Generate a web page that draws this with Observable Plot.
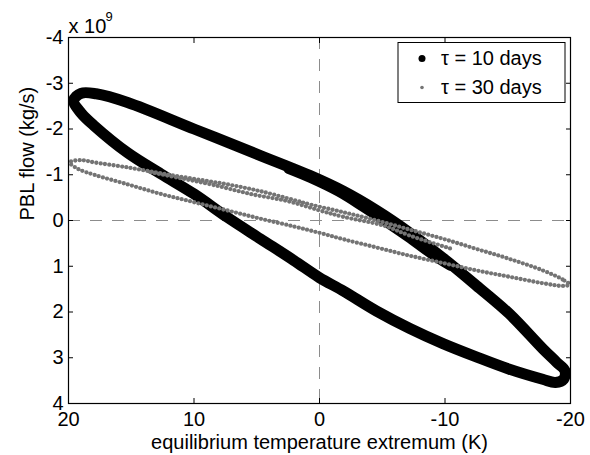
<!DOCTYPE html>
<html><head><meta charset="utf-8">
<script src="https://cdn.jsdelivr.net/npm/d3@7"></script>
<script src="https://cdn.jsdelivr.net/npm/@observablehq/plot@0.6"></script>
<style>body{margin:0;background:#fff} svg{display:block}</style>
</head><body><div id="chart"></div>
<script>
// ---- chart data ----
const xTicks = [20, 10, 0, -10, -20];
const yTicks = [-4, -3, -2, -1, 0, 1, 2, 3, 4];
const xLabel = "equilibrium temperature extremum (K)";
const yLabel = "PBL flow (kg/s)";
const yMultiplier = "x 10";
const yExponent = "9";
const seriesLabels = ["τ = 10 days", "τ = 30 days"];
const seriesColors = ["#000000", "#747474"];

// τ = 10 days : settled loop (temperature K, flow 1e9 kg/s)
const blackLoopT = [-19.55, -18.9, -17.78, -15.13, -12.49, -9.84, -7.2, -4.55, -1.9, 0.74, 4.71, 10, 15.29, 17.8, 19.0, 19.6, 19.0, 17.95, 15.29, 12.64, 10, 7.35, 4.71, 2.06, 0, -1.9, -4.55, -7.2, -9.84, -12.49, -15.13, -17.78, -18.8, -19.45];
const blackLoopF = [3.28, 3.10, 2.80, 2.04, 1.42, 0.82, 0.27, -0.22, -0.64, -0.98, -1.42, -2.0, -2.58, -2.77, -2.78, -2.62, -2.35, -2.07, -1.48, -1.02, -0.58, -0.07, 0.40, 0.87, 1.25, 1.54, 1.98, 2.36, 2.69, 2.98, 3.25, 3.47, 3.54, 3.47];
// τ = 10 days : start-up track
const blackStartT = [-10.4, -8.8, -7.2, -5.5, -3.5, -1.5, 0.74, 2.5];
const blackStartF = [1.0, 0.72, 0.40, 0.08, -0.28, -0.62, -0.92, -1.12];

// τ = 30 days : settled loop
const grayLoopT = [-19.9, -19.37, -17.78, -15.13, -12.49, -9.84, -7.2, -4.55, -1.9, 0.74, 2.06, 4.71, 7.35, 10, 12.64, 15.29, 17.95, 19.0, 19.9, 19.26, 17.95, 15.29, 12.64, 10, 7.35, 4.71, 2.06, 0, -1.9, -4.55, -7.2, -9.84, -12.49, -15.13, -17.78, -19.4];
const grayLoopF = [1.40, 1.29, 1.09, 0.84, 0.62, 0.40, 0.20, 0.0, -0.18, -0.35, -0.45, -0.64, -0.79, -0.91, -1.03, -1.16, -1.27, -1.32, -1.27, -1.13, -1.0, -0.79, -0.58, -0.40, -0.22, -0.04, 0.13, 0.27, 0.41, 0.59, 0.77, 0.93, 1.09, 1.23, 1.37, 1.43];
// τ = 30 days : start-up track
const grayStartT = [-10.4, -7.2, -5.08, -1.9, 0, 2.5, 5.5, 8.5, 11, 13.5];
const grayStartF = [0.61, 0.33, 0.11, -0.08, -0.22, -0.42, -0.58, -0.78, -0.92, -1.06];

const rows = (T, F) => T.map((t, i) => ({t, f: F[i]}));
const fmt = d => String(d);
const FONT = "'Liberation Sans', Arial, Helvetica, sans-serif";
const dotted = {stroke: seriesColors[1], strokeWidth: 4.3, strokeLinecap: "round", strokeDasharray: "0,4.3", clip: true};

const svg = Plot.plot({
  width: 590, height: 455,
  marginLeft: 68, marginRight: 20, marginTop: 37, marginBottom: 52,
  style: {fontFamily: FONT, fontSize: "20px", background: "#fff", color: "#000", overflow: "visible"},
  x: {domain: [20, -20], label: null},
  y: {domain: [4, -4], label: null},
  marks: [
    Plot.ruleX([0], {stroke: "#8c8c8c", strokeWidth: 1, strokeDasharray: "12,10"}),
    Plot.ruleY([0], {stroke: "#8c8c8c", strokeWidth: 1, strokeDasharray: "12,10"}),
    Plot.line(rows(blackLoopT, blackLoopF), {x: "t", y: "f", curve: "catmull-rom-closed", stroke: seriesColors[0], strokeWidth: 11, strokeLinejoin: "round", clip: true}),
    Plot.line(rows(blackStartT, blackStartF), {x: "t", y: "f", curve: "catmull-rom", stroke: seriesColors[0], strokeWidth: 9, strokeLinecap: "round", clip: true}),
    Plot.line(rows(grayLoopT, grayLoopF), {x: "t", y: "f", curve: "catmull-rom-closed", ...dotted}),
    Plot.line(rows(grayStartT, grayStartF), {x: "t", y: "f", curve: "catmull-rom", ...dotted}),
    Plot.frame({stroke: "#000", strokeWidth: 1.2}),
    Plot.axisX(xTicks, {anchor: "bottom", tickSize: 5, dy: -5, fill: "none", label: null}),
    Plot.axisX(xTicks, {anchor: "top", tickSize: 5, dy: 5, fill: "none", label: null}),
    Plot.axisY(yTicks, {anchor: "left", tickSize: 5, dx: 5, fill: "none", label: null}),
    Plot.axisY(yTicks, {anchor: "right", tickSize: 5, dx: -5, fill: "none", label: null}),
    Plot.axisX(xTicks, {anchor: "bottom", tickSize: 0, tickPadding: 8, tickFormat: fmt, label: null, fontSize: 20}),
    Plot.axisY(yTicks, {anchor: "left", tickSize: 0, tickPadding: 5, tickFormat: fmt, label: null, fontSize: 20}),
    Plot.text([xLabel], {frameAnchor: "bottom", dy: 45, lineAnchor: "bottom", fontSize: 20}),
    Plot.text([yLabel], {frameAnchor: "left", dx: -35, rotate: -90, lineAnchor: "bottom", fontSize: 20}),
    Plot.text([yMultiplier], {frameAnchor: "top-left", dy: -5, textAnchor: "start", lineAnchor: "bottom", fontSize: 20}),
    Plot.text([yExponent], {frameAnchor: "top-left", dx: 37, dy: -17, textAnchor: "start", lineAnchor: "bottom", fontSize: 13})
  ]
});

// legend box inside the axes (top-right)
const g = d3.select(svg).append("g").attr("font-family", FONT).attr("font-size", 20).attr("text-anchor", "start");
g.append("rect").attr("x", 398).attr("y", 42.5).attr("width", 167).attr("height", 60)
  .attr("fill", "#fff").attr("stroke", "#000").attr("stroke-width", 1);
const legendR = [3.5, 1.8];
seriesLabels.forEach((lab, i) => {
  const cy = 58.5 + i * 29;
  g.append("circle").attr("cx", 422).attr("cy", cy).attr("r", legendR[i]).attr("fill", seriesColors[i]);
  g.append("text").attr("x", 441).attr("y", cy + 6.7).attr("fill", "#000").attr("text-anchor", "start").text(lab);
});

document.getElementById("chart").appendChild(svg);
</script>
</body></html>
